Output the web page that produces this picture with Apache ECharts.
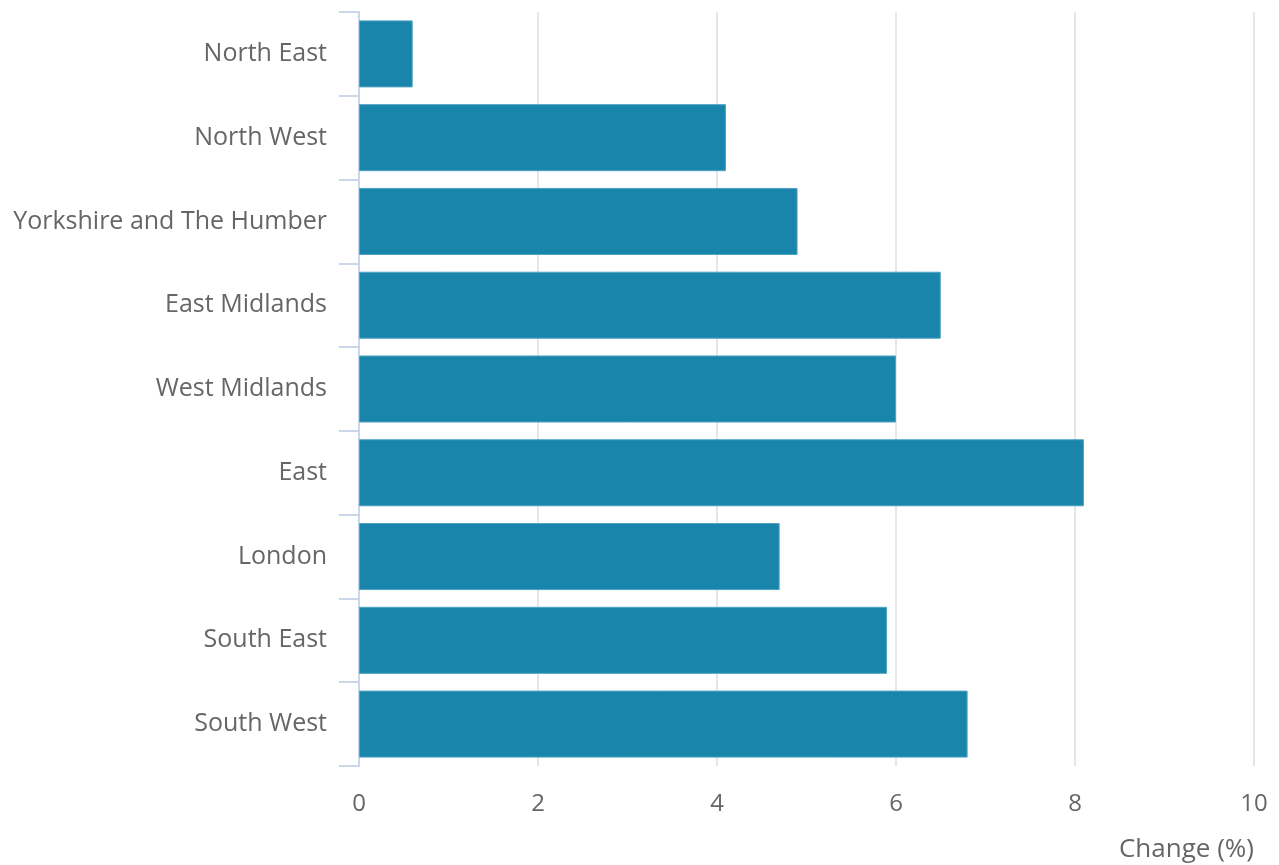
<!DOCTYPE html>
<html>
<head>
<meta charset="utf-8">
<script src="https://cdn.jsdelivr.net/npm/echarts@6/dist/echarts.min.js"></script>
<style>
  html, body { margin: 0; padding: 0; background: #fff; }
  #chart { width: 1279px; height: 865px; }
</style>
</head>
<body>
<div id="chart"></div>
<script>
const regions = ['North East', 'North West', 'Yorkshire and The Humber', 'East Midlands',
  'West Midlands', 'East', 'London', 'South East', 'South West'];
const changes = [0.6, 4.1, 4.9, 6.5, 6.0, 8.1, 4.7, 5.9, 6.8];
const xTicks = [0, 2, 4, 6, 8, 10];

const chart = echarts.init(document.getElementById('chart'));

const option = {
  animation: false,
  textStyle: { fontFamily: '"Open Sans", sans-serif' },
  grid: { left: 359, right: 25, top: 12, bottom: 99, containLabel: false },
  xAxis: {
    type: 'value',
    min: xTicks[0],
    max: xTicks[xTicks.length - 1],
    interval: 2,
    name: 'Change (%)',
    nameLocation: 'end',
    nameGap: 0,
    nameTextStyle: {
      color: '#666',
      fontSize: 26,
      align: 'right',
      verticalAlign: 'top',
      padding: [71, 0, 0, 0]
    },
    axisLine: { show: false },
    axisTick: { show: false },
    axisLabel: { color: '#666', fontSize: 24, margin: 26 },
    splitLine: { show: true, lineStyle: { color: '#e6e6e6', width: 2 } }
  },
  yAxis: {
    type: 'category',
    inverse: true,
    data: regions,
    axisLine: { show: true, lineStyle: { color: '#ccd6eb', width: 2 } },
    axisTick: { show: true, length: 20, lineStyle: { color: '#ccd6eb', width: 2 } },
    axisLabel: { color: '#666', fontSize: 25, margin: 32, padding: [4, 0, 0, 0] },
    splitLine: { show: false }
  },
  series: [{
    type: 'bar',
    data: changes,
    barCategoryGap: '20%',
    itemStyle: { color: '#1a85ab', borderColor: '#4fa3c4', borderWidth: 1 }
  }]
};

chart.setOption(option);
window.addEventListener('resize', () => chart.resize());
</script>
</body>
</html>
